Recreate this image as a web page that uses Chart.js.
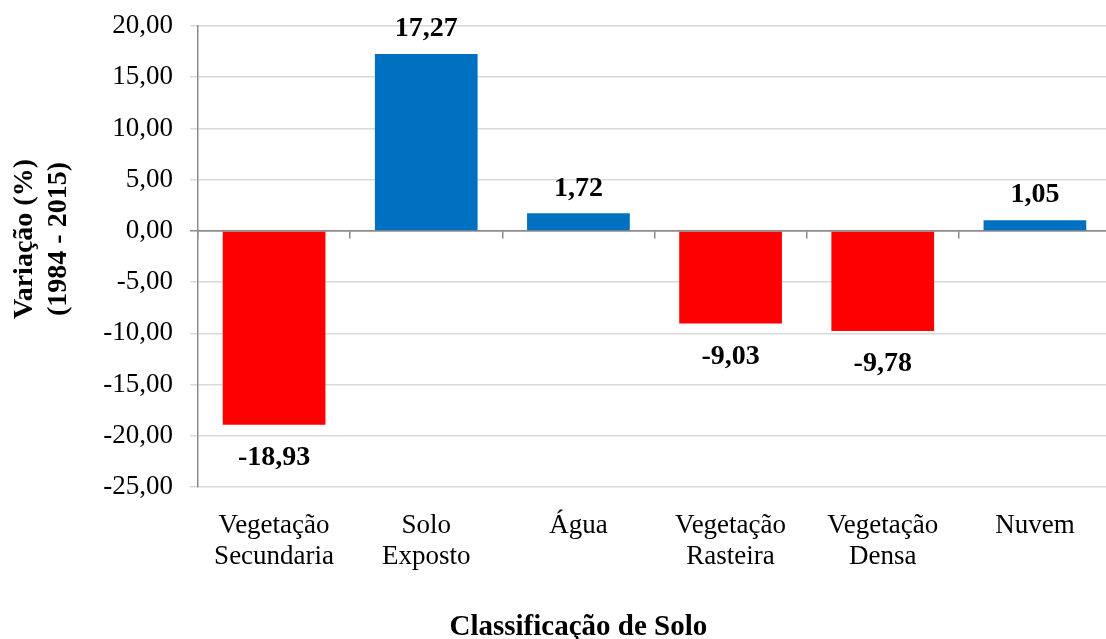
<!DOCTYPE html>
<html>
<head>
<meta charset="utf-8">
<script src="https://cdn.jsdelivr.net/npm/chart.js@4.4.1/dist/chart.umd.min.js"></script>
<style>
html,body{margin:0;padding:0;background:#fff;overflow:hidden;}
#wrap{width:1111px;height:639px;position:relative;}
</style>
</head>
<body>
<div id="wrap"><canvas id="c"></canvas></div>
<script>
const categories = [
  ['Vegetação', 'Secundaria'],
  ['Solo', 'Exposto'],
  ['Água'],
  ['Vegetação', 'Rasteira'],
  ['Vegetação', 'Densa'],
  ['Nuvem']
];
const variacao = [-18.93, 17.27, 1.72, -9.03, -9.78, 1.05];
const yTicks = [20, 15, 10, 5, 0, -5, -10, -15, -20, -25];
const yTitle = ['Variação (%)', '(1984 - 2015)'];
const xTitle = 'Classificação de Solo';

const FONT = "'Liberation Serif', 'Times New Roman', serif";
Chart.defaults.font.family = FONT;
Chart.defaults.color = '#000';

const fmt = v => v.toFixed(2).replace('.', ',');

const valueLabels = {
  id: 'valueLabels',
  afterDatasetsDraw(chart) {
    const ctx = chart.ctx;
    const meta = chart.getDatasetMeta(0);
    ctx.save();
    ctx.font = "bold 28px " + FONT;
    ctx.fillStyle = '#000';
    ctx.textAlign = 'center';
    ctx.textBaseline = 'middle';
    meta.data.forEach((el, i) => {
      const v = chart.data.datasets[0].data[i];
      const y = v >= 0 ? el.y - 25 : el.y + 33;
      ctx.fillText(fmt(v), el.x, y);
    });
    ctx.restore();
  }
};

new Chart(document.getElementById('c'), {
  type: 'bar',
  data: {
    labels: categories,
    datasets: [{
      data: variacao,
      backgroundColor: variacao.map(v => v >= 0 ? '#0070C0' : '#FF0000'),
      borderWidth: 0,
      categoryPercentage: 1,
      barPercentage: 0.675,
      xAxisID: 'x',
      yAxisID: 'y'
    }]
  },
  options: {
    responsive: true,
    maintainAspectRatio: false,
    animation: false,
    layout: { padding: { top: 26, left: 0, right: 0, bottom: 0 } },
    plugins: { legend: { display: false }, tooltip: { enabled: false } },
    scales: {
      y: {
        min: -25, max: 20,
        afterBuildTicks: s => { s.ticks = yTicks.map(v => ({ value: v })); },
        afterFit: s => { s.width = 198; s.paddingTop = 0; s.paddingBottom = 0; },
        ticks: {
          font: { size: 27 },
          padding: 17,
          callback: v => fmt(v)
        },
        grid: {
          color: ctx => (ctx.tick && ctx.tick.value === 0) ? '#8c8c8c' : '#d9d9d9',
          lineWidth: 1.5,
          tickLength: 8
        },
        border: { color: '#8c8c8c', width: 1.5 },
        title: {
          display: true,
          text: yTitle.map(t => ' '.repeat(5) + t),
          font: { size: 28, weight: 'bold' },
          lineHeight: 1.2,
          padding: { top: 8, bottom: 0 }
        }
      },
      x: {
        type: 'category',
        position: { y: 0 },
        offset: true,
        ticks: { display: false },
        grid: { offset: true, drawOnChartArea: false, drawTicks: true, tickLength: 7, color: '#8c8c8c', lineWidth: 1.5 },
        border: { color: '#8c8c8c', width: 1.5 }
      },
      x2: {
        type: 'category',
        position: 'bottom',
        offset: true,
        afterFit: s => { s.height = 152; },
        grid: { display: false, drawTicks: false },
        border: { display: false },
        ticks: { font: { size: 27, lineHeight: 1.13 }, padding: 24, maxRotation: 0, autoSkip: false },
        title: {
          display: true,
          text: xTitle + ' '.repeat(21),
          font: { size: 29, weight: 'bold', lineHeight: 0.8 },
          padding: { top: 0, bottom: 0 }
        }
      }
    }
  },
  plugins: [valueLabels]
});
</script>
</body>
</html>
